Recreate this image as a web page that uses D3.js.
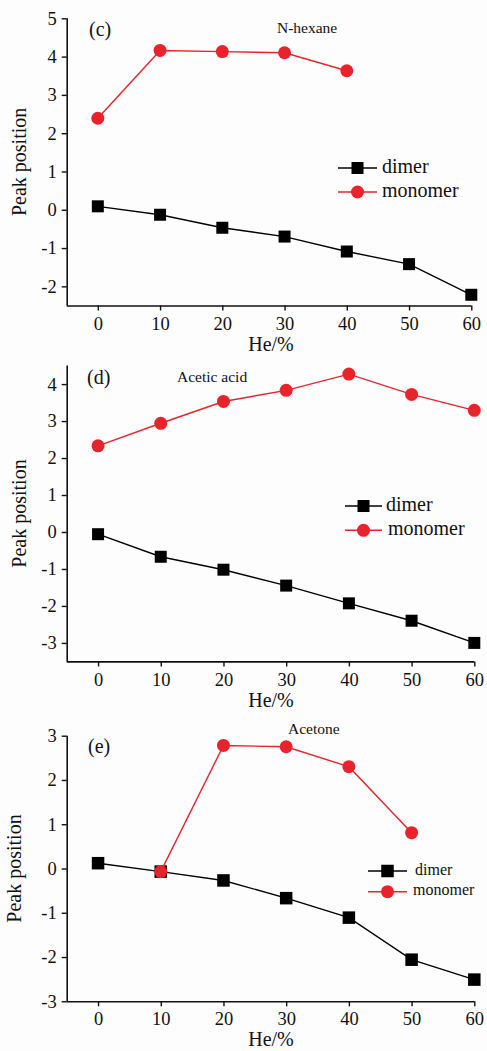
<!DOCTYPE html>
<html>
<head>
<meta charset="utf-8">
<script src="https://cdn.jsdelivr.net/npm/d3@7"></script>
<style>
  html, body { margin: 0; padding: 0; background: #fdfdfd; }
  svg { display: block; }
</style>
</head>
<body>
<svg id="chart" width="487" height="1051"></svg>
<script>
// He concentration levels (%)
const heLevels = [0, 10, 20, 30, 40, 50, 60];

// (c) N-hexane
const hexaneDimer = [0.09, -0.13, -0.47, -0.70, -1.09, -1.42, -2.22];
const hexaneMonomerHe = [0, 10, 20, 30, 40];
const hexaneMonomer = [2.39, 4.16, 4.13, 4.10, 3.63];
const hexaneYTicks = [-2, -1, 0, 1, 2, 3, 4, 5];

// (d) Acetic acid
const aceticDimer = [-0.06, -0.67, -1.02, -1.45, -1.93, -2.40, -3.00];
const aceticMonomerHe = [0, 10, 20, 30, 40, 50, 60];
const aceticMonomer = [2.33, 2.94, 3.53, 3.83, 4.27, 3.72, 3.29];
const aceticYTicks = [-3, -2, -1, 0, 1, 2, 3, 4];

// (e) Acetone
const acetoneDimer = [0.12, -0.07, -0.27, -0.67, -1.11, -2.06, -2.51];
const acetoneMonomerHe = [10, 20, 30, 40, 50];
const acetoneMonomer = [-0.07, 2.78, 2.75, 2.30, 0.81];
const acetoneYTicks = [-3, -2, -1, 0, 1, 2, 3];

const xTicks = [0, 10, 20, 30, 40, 50, 60];
const seriesNames = ["dimer", "monomer"];

const RED = "#e8232b";
const BLACK = "#000";
const SERIF = '"Liberation Serif", "Times New Roman", serif';

const svg = d3.select("#chart");

function drawPanel(p) {
  const g = svg.append("g");
  const x = d3.scaleLinear().domain([-5, 60]).range([p.left, p.right]);
  const y = d3.scaleLinear().domain(p.yDomain).range([p.bottom, p.top]);

  // axes (plain hyphen for negative numbers)
  const yAxis = d3.axisLeft(y).tickValues(p.yTicks).tickSize(5).tickPadding(5)
    .tickFormat(d => String(d));
  const xAxis = d3.axisBottom(x).tickValues(xTicks).tickSize(5).tickPadding(6)
    .tickFormat(d => String(d));

  const ya = g.append("g").attr("transform", `translate(${p.left},0)`).call(yAxis);
  const xa = g.append("g").attr("transform", `translate(0,${p.bottom})`).call(xAxis);
  [ya, xa].forEach(a => {
    a.select(".domain").attr("stroke", "#111").attr("stroke-width", 1.6);
    a.selectAll(".tick line").attr("stroke", "#111").attr("stroke-width", 1.4);
    a.selectAll("text").attr("font-size", 18.5).attr("fill", "#111");
  });
  ya.select(".domain").attr("d", `M0.5,${y(p.yDomain[0])}V${y(p.yDomain[1])}`);
  xa.select(".domain").attr("d", `M${p.left},0.5H${x(60)}`);

  // axis titles
  g.append("text")
    .attr("transform", `translate(${p.yTitleX},${(p.top + p.bottom) / 2}) rotate(-90)`)
    .attr("text-anchor", "middle").attr("dominant-baseline", "middle")
    .attr("font-size", 20).text("Peak position");
  g.append("text")
    .attr("x", 271).attr("y", p.xTitleY)
    .attr("text-anchor", "middle").attr("dominant-baseline", "middle")
    .attr("font-size", 20).text("He/%");

  // panel tag and compound name
  g.append("text").attr("x", p.tagX).attr("y", p.tagY)
    .attr("dominant-baseline", "middle").attr("font-size", 20).text(p.tag);
  g.append("text").attr("x", p.nameX).attr("y", p.nameY)
    .attr("dominant-baseline", "middle").attr("font-size", 15.5).text(p.name);

  const line = d3.line().x(d => x(d[0])).y(d => y(d[1]));
  const dimerPts = heLevels.map((h, i) => [h, p.dimer[i]]);
  const monoPts = p.monoHe.map((h, i) => [h, p.mono[i]]);

  // dimer series
  g.append("path").datum(dimerPts).attr("d", line)
    .attr("fill", "none").attr("stroke", BLACK).attr("stroke-width", 1.4);
  g.selectAll(".sq").data(dimerPts).enter().append("rect")
    .attr("x", d => x(d[0]) - p.sq / 2).attr("y", d => y(d[1]) - p.sq / 2)
    .attr("width", p.sq).attr("height", p.sq).attr("fill", BLACK);

  // monomer series
  g.append("path").datum(monoPts).attr("d", line)
    .attr("fill", "none").attr("stroke", RED).attr("stroke-width", 1.4);
  g.selectAll(".ci").data(monoPts).enter().append("circle")
    .attr("cx", d => x(d[0])).attr("cy", d => y(d[1]))
    .attr("r", p.r).attr("fill", RED);

  // legend
  const L = p.legend;
  seriesNames.forEach((name, i) => {
    const ly = L.y + i * L.gap;
    const col = i === 0 ? BLACK : RED;
    g.append("line").attr("x1", L.x).attr("x2", L.x + L.len)
      .attr("y1", ly).attr("y2", ly).attr("stroke", col).attr("stroke-width", 1.4);
    const cx = L.x + L.len / 2;
    if (i === 0) {
      g.append("rect").attr("x", cx - p.sq / 2).attr("y", ly - p.sq / 2)
        .attr("width", p.sq).attr("height", p.sq).attr("fill", BLACK);
    } else {
      g.append("circle").attr("cx", cx).attr("cy", ly).attr("r", p.r).attr("fill", RED);
    }
    g.append("text").attr("x", L.x + L.len + L.pad + (i === 1 ? L.shift : 0)).attr("y", ly)
      .attr("dominant-baseline", "middle").attr("font-size", L.font).text(name);
  });
}

drawPanel({
  left: 66.7, right: 471.3, top: 18.3, bottom: 305.5,
  yDomain: [-2.5, 5], yTicks: hexaneYTicks,
  dimer: hexaneDimer, monoHe: hexaneMonomerHe, mono: hexaneMonomer,
  tag: "(c)", tagX: 89, tagY: 31, name: "N-hexane", nameX: 277, nameY: 29,
  yTitleX: 21, xTitleY: 346,
  sq: 12, r: 6.5,
  legend: { x: 338, y: 168, gap: 24, len: 39, pad: 5, shift: 0, font: 20 }
});

drawPanel({
  left: 66.7, right: 474.3, top: 365.6, bottom: 661.4,
  yDomain: [-3.5, 4.5], yTicks: aceticYTicks,
  dimer: aceticDimer, monoHe: aceticMonomerHe, mono: aceticMonomer,
  tag: "(d)", tagX: 87, tagY: 379, name: "Acetic acid", nameX: 177, nameY: 378,
  yTitleX: 21, xTitleY: 702,
  sq: 12, r: 6.5,
  legend: { x: 345, y: 506, gap: 24.3, len: 37, pad: 4, shift: 2, font: 20 }
});

drawPanel({
  left: 66.7, right: 474.3, top: 735.7, bottom: 1001.3,
  yDomain: [-3, 3], yTicks: acetoneYTicks,
  dimer: acetoneDimer, monoHe: acetoneMonomerHe, mono: acetoneMonomer,
  tag: "(e)", tagX: 88, tagY: 748, name: "Acetone", nameX: 288, nameY: 730,
  yTitleX: 16, xTitleY: 1041,
  sq: 12.5, r: 6.5,
  legend: { x: 368, y: 871, gap: 20.7, len: 39, pad: 8, shift: -2, font: 16 }
});

// serif face on every label
svg.selectAll("text").style("font-family", SERIF).style("fill", "#111");
</script>
</body>
</html>
